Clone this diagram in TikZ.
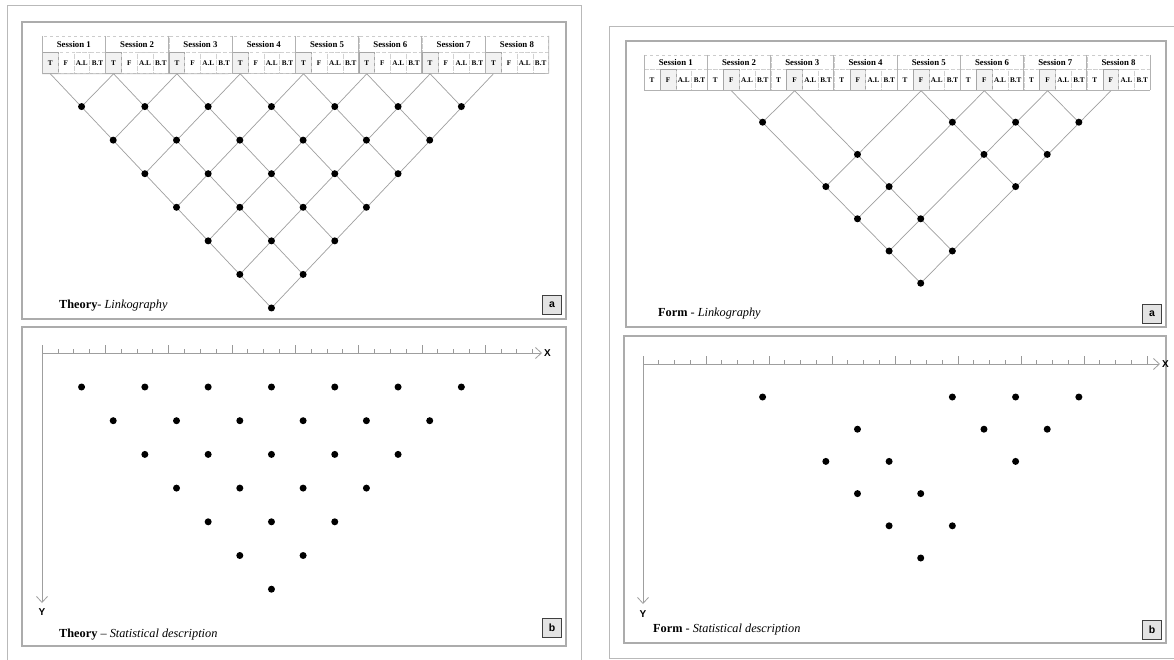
\documentclass[tikz,border=0pt]{standalone}
\usepackage{fontspec}
\setmainfont{Liberation Serif}
\newfontfamily\axisfont{Liberation Sans}
\usetikzlibrary{arrows.meta}
\tikzset{
  outerframe/.style={draw=gray!55, line width=0.9pt},
  panelframe/.style={draw=gray!65, line width=1.1pt},
  linkline/.style={draw=gray!75, line width=0.7pt},
  ldot/.style={circle, fill=black, inner sep=0pt, minimum size=7pt},
  sesscell/.style={draw=gray!40, dashed, inner sep=0pt, anchor=north west, font=\bfseries\fontsize{8.8}{9}\selectfont},
  codecell/.style={draw=gray!35, dashed, inner sep=0pt, anchor=north west, font=\bfseries\fontsize{7.2}{8}\selectfont},
  hlcell/.style={draw=gray!70, solid, fill=gray!10, line width=0.8pt, inner sep=0pt, anchor=north west, font=\bfseries\fontsize{7.2}{8}\selectfont},
  sessline/.style={draw=gray!60, line width=0.7pt},
  axisarrow/.style={draw=gray!75, line width=0.8pt, -{Straight Barb[length=6pt,width=11pt]}},
  axislabel/.style={font=\axisfont\bfseries\fontsize{10}{12}\selectfont, inner sep=0pt},
  tickline/.style={draw=gray!80, line width=0.6pt},
  caption/.style={anchor=west, inner sep=0pt, font=\fontsize{12.3}{14}\selectfont},
  tagbox/.style={draw=gray!50!black, fill=gray!22, line width=1pt, minimum width=19pt, minimum height=19pt, inner sep=0pt, font=\axisfont\bfseries\fontsize{10.5}{12}\selectfont},
}
\begin{document}
\begin{tikzpicture}[x=1pt,y=-1pt]
\useasboundingbox (0,0) rectangle (1174,660);
\fill[white] (0,0) rectangle (1174,660);

% outer frames
\draw[outerframe] (7,5) rectangle (581,664);
\draw[outerframe] (609,26) rectangle (1178,658);

% panels
\draw[panelframe] (22,22) rectangle (566,319);
\draw[panelframe] (22,327) rectangle (566,646);
\draw[panelframe] (626,41) rectangle (1166,327);
\draw[panelframe] (624,336) rectangle (1166,643);

% ================= THEORY linkography header =================
\def\tx{42}\def\tw{63.3}\def\ttop{36}\def\tmid{52}\def\tbot{73}\def\tdy{33.57}
\foreach \i in {1,...,8} {
  \pgfmathsetmacro\xa{\tx+(\i-1)*\tw}
  \pgfmathsetmacro\cw{\tw/4}
  \node[sesscell, minimum width=\tw pt, minimum height=16pt] (ts\i) at (\xa,\ttop) {Session \i};
  \foreach \k/\lab in {1/T,2/F,3/A.L,4/B.T} {
    \pgfmathsetmacro\xc{\xa+(\k-1)*\cw}
    \ifnum\k=1
      \node[hlcell, minimum width=\cw pt, minimum height=21pt] (tc\i-\k) at (\xc,\tmid) {\lab};
    \else
      \node[codecell, minimum width=\cw pt, minimum height=21pt] (tc\i-\k) at (\xc,\tmid) {\lab};
    \fi
  }
  \draw[sessline] (ts\i.north west) -- (tc\i-1.south west);
}
\draw[sessline] (ts8.north east) -- (tc8-4.south east);
\draw[sessline] (tc1-1.south west) -- (tc8-4.south east);

% theory dots
\foreach \i in {1,...,7} {
  \pgfmathtruncatemacro\jj{\i+1}
  \foreach \j in {\jj,...,8} {
    \pgfmathsetmacro\dx{\tx+\tw/8+(\i+\j-2)*\tw/2}
    \pgfmathsetmacro\dyy{\tbot+(\j-\i)*\tdy}
    \coordinate (td\i-\j) at (\dx,\dyy);
  }
}
% theory link lines
\foreach \i in {1,...,7} { \draw[linkline] (tc\i-1.south) -- (td\i-8); }
\foreach \j in {2,...,8} { \draw[linkline] (tc\j-1.south) -- (td1-\j); }
\foreach \i in {1,...,7} {
  \pgfmathtruncatemacro\jj{\i+1}
  \foreach \j in {\jj,...,8} { \node[ldot] (tD\i-\j) at (td\i-\j) {}; }
}
\node[caption] (tcapA) at (59,306) {\textbf{Theory}- \textit{Linkography}};
\node[tagbox] (ttagA) at (552,305) {a};

% ================= THEORY statistical description =================
\coordinate (tbo) at (42,353);
\coordinate (tbx) at (542,353);
\coordinate (tby) at (42,603);
\draw[axisarrow] (tbo) -- (tbx);
\draw[axisarrow] (tbo) -- (tby);
\node[axislabel, anchor=west] (tbX) at (544,353) {X};
\node[axislabel] (tbY) at (42,612) {Y};
\foreach \m in {0,...,31} {
  \pgfmathsetmacro\xt{42+\m*\tw/4}
  \pgfmathtruncatemacro\md{mod(\m,4)}
  \ifnum\md=0 \draw[tickline] (\xt,353) -- (\xt,345); \else \draw[tickline] (\xt,353) -- (\xt,349); \fi
}
\foreach \i in {1,...,7} {
  \pgfmathtruncatemacro\jj{\i+1}
  \foreach \j in {\jj,...,8} {
    \pgfmathsetmacro\dx{\tx+\tw/8+(\i+\j-2)*\tw/2}
    \pgfmathsetmacro\dyy{387+(\j-\i-1)*33.7}
    \node[ldot] (tB\i-\j) at (\dx,\dyy) {};
  }
}
\node[caption] (tcapB) at (59,635) {\textbf{Theory} -- \textit{Statistical description}};
\node[tagbox] (ttagB) at (552,628) {b};

% ================= FORM linkography header =================
\def\fx{644}\def\fw{63.25}\def\ftop{55}\def\fmid{69}\def\fbot{90}\def\fdy{32.2}
\foreach \i in {1,...,8} {
  \pgfmathsetmacro\xa{\fx+(\i-1)*\fw}
  \pgfmathsetmacro\cw{\fw/4}
  \node[sesscell, minimum width=\fw pt, minimum height=14pt] (fs\i) at (\xa,\ftop) {Session \i};
  \foreach \k/\lab in {1/T,2/F,3/A.L,4/B.T} {
    \pgfmathsetmacro\xc{\xa+(\k-1)*\cw}
    \ifnum\k=2
      \node[hlcell, minimum width=\cw pt, minimum height=21pt] (fc\i-\k) at (\xc,\fmid) {\lab};
    \else
      \node[codecell, minimum width=\cw pt, minimum height=21pt] (fc\i-\k) at (\xc,\fmid) {\lab};
    \fi
  }
  \draw[sessline] (fs\i.north west) -- (fc\i-1.south west);
}
\draw[sessline] (fs8.north east) -- (fc8-4.south east);
\draw[sessline] (fc1-1.south west) -- (fc8-4.south east);

% form dots: all pairs among sessions 2,3,5,6,7,8
\foreach \i/\rest in {2/{3,5,6,7,8},3/{5,6,7,8},5/{6,7,8},6/{7,8},7/{8}} {
  \foreach \j in \rest {
    \pgfmathsetmacro\dx{\fx+3*\fw/8+(\i+\j-2)*\fw/2}
    \pgfmathsetmacro\dyy{\fbot+(\j-\i)*\fdy}
    \coordinate (fd\i-\j) at (\dx,\dyy);
  }
}
\foreach \i in {2,3,5,6,7} { \draw[linkline] (fc\i-2.south) -- (fd\i-8); }
\foreach \j in {3,5,6,7,8} { \draw[linkline] (fc\j-2.south) -- (fd2-\j); }
\foreach \i/\rest in {2/{3,5,6,7,8},3/{5,6,7,8},5/{6,7,8},6/{7,8},7/{8}} {
  \foreach \j in \rest { \node[ldot] (fD\i-\j) at (fd\i-\j) {}; }
}
\node[caption] (fcapA) at (658,314) {\textbf{Form} - \textit{Linkography}};
\node[tagbox] (ftagA) at (1152,314) {a};

% ================= FORM statistical description =================
\coordinate (fbo) at (643,364);
\coordinate (fbx) at (1160,364);
\coordinate (fby) at (643,604);
\draw[axisarrow] (fbo) -- (fbx);
\draw[axisarrow] (fbo) -- (fby);
\node[axislabel, anchor=west] (fbX) at (1162,364) {X};
\node[axislabel] (fbY) at (643,614) {Y};
\foreach \m in {0,...,32} {
  \pgfmathsetmacro\xt{643+\m*63/4}
  \pgfmathtruncatemacro\md{mod(\m,4)}
  \ifnum\md=0 \draw[tickline] (\xt,364) -- (\xt,356); \else \draw[tickline] (\xt,364) -- (\xt,360); \fi
}
\foreach \i/\rest in {2/{3,5,6,7,8},3/{5,6,7,8},5/{6,7,8},6/{7,8},7/{8}} {
  \foreach \j in \rest {
    \pgfmathsetmacro\dx{\fx+3*\fw/8+(\i+\j-2)*\fw/2}
    \pgfmathsetmacro\dyy{397+(\j-\i-1)*32.2}
    \node[ldot] (fB\i-\j) at (\dx,\dyy) {};
  }
}
\node[caption] (fcapB) at (653,630) {\textbf{Form} - \textit{Statistical description}};
\node[tagbox] (ftagB) at (1152,630) {b};
\end{tikzpicture}
\end{document}
